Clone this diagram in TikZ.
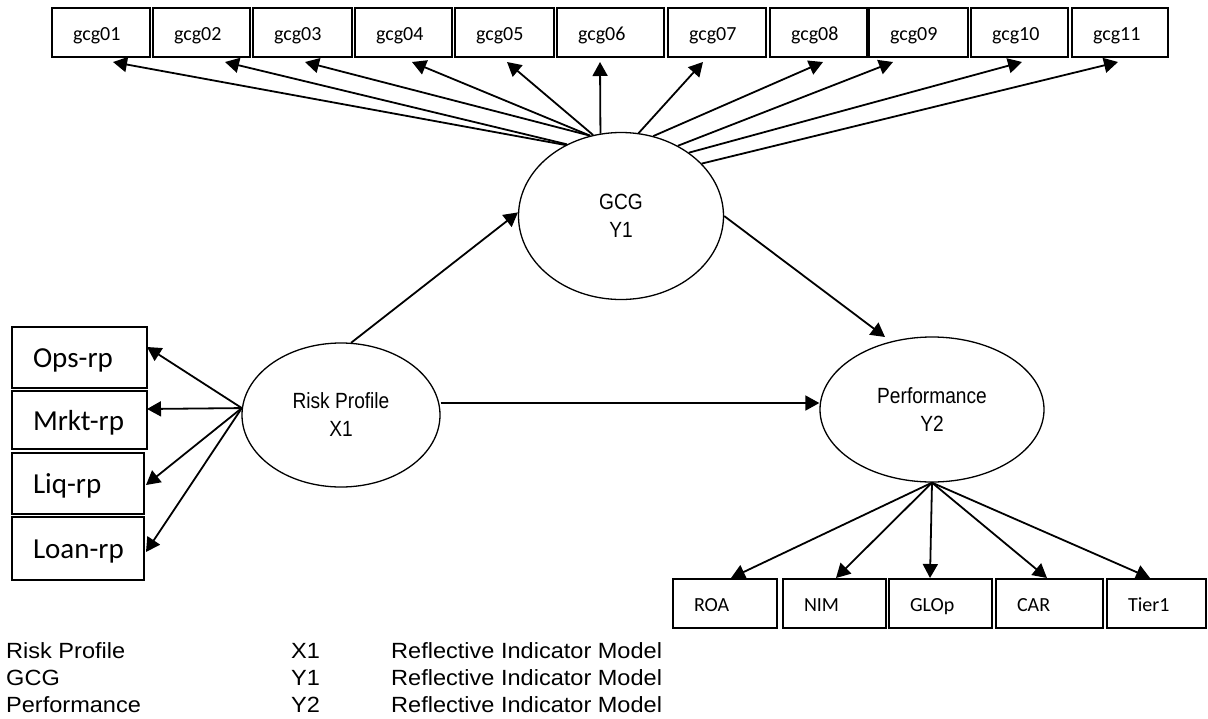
\documentclass[tikz,border=0pt]{standalone}
\usepackage{fontspec}
\setmainfont{Carlito}
\newfontfamily\narrowf[FakeStretch=0.87]{Liberation Sans}
\newfontfamily\legf[FakeStretch=1.07]{Liberation Sans}
\usetikzlibrary{shapes.geometric,arrows.meta}
\begin{document}
\begin{tikzpicture}[x=1pt,y=-1pt,
  gbox/.style={draw, rectangle, line width=1.4pt, inner xsep=21pt, inner ysep=0pt,
    minimum height=49pt, text height=15pt, text depth=0pt, align=left,
    font=\fontsize{20}{24}\selectfont},
  lbox/.style={draw, rectangle, line width=1.4pt, inner xsep=21pt, inner ysep=0pt,
    text height=20pt, text depth=0pt, align=left,
    font=\fontsize{29}{34}\selectfont},
  latent/.style={draw, ellipse, line width=1.3pt, inner sep=0pt, align=center,
    font=\narrowf\fontsize{22}{28}\selectfont},
  arr/.style={line width=1.8pt, -{Triangle[length=14pt,width=15pt]}},
  leg/.style={anchor=base west, inner sep=0pt, font=\legf\fontsize{22}{27}\selectfont}
]
\useasboundingbox (0,0) rectangle (1208,718);

% top indicator boxes
\node[gbox, text width=56pt] (g01) at (101,32.5) {gcg01};
\node[gbox, text width=55pt] (g02) at (201.5,32.5) {gcg02};
\node[gbox, text width=57pt] (g03) at (302.5,32.5) {gcg03};
\node[gbox, text width=55pt] (g04) at (403.5,32.5) {gcg04};
\node[gbox, text width=57pt] (g05) at (504.5,32.5) {gcg05};
\node[gbox, text width=65pt] (g06) at (610.5,32.5) {gcg06};
\node[gbox, text width=56pt] (g07) at (717,32.5) {gcg07};
\node[gbox, text width=55pt] (g08) at (818.5,32.5) {gcg08};
\node[gbox, text width=57pt] (g09) at (918.5,32.5) {gcg09};
\node[gbox, text width=55pt] (g10) at (1019.5,32.5) {gcg10};
\node[gbox, text width=54pt] (g11) at (1120,32.5) {gcg11};

% left indicator boxes
\node[lbox, text width=93pt, minimum height=61pt] (ops) at (79.5,357.5) {\mbox{Ops-rp}};
\node[lbox, text width=93pt, minimum height=58pt] (mrkt) at (79.5,420) {\mbox{Mrkt-rp}};
\node[lbox, text width=90pt, minimum height=61pt] (liq) at (78,483.5) {\mbox{Liq-rp}};
\node[lbox, text width=90pt, minimum height=63pt] (loan) at (78,548.5) {\mbox{Loan-rp}};

% bottom indicator boxes
\node[gbox, text width=62pt] (roa) at (725,603.5) {ROA};
\node[gbox, text width=61pt] (nim) at (834.5,603.5) {NIM};
\node[gbox, text width=61pt] (glop) at (940.5,603.5) {GLOp};
\node[gbox, text width=65pt] (car) at (1049.5,603.5) {CAR};
\node[gbox, text width=57pt] (tier) at (1156.5,603.5) {Tier1};

% latent variables
\node[latent, minimum width=198pt, minimum height=144pt] (rp) at (341,415) {Risk Profile\\X1};
\node[latent, minimum width=205pt, minimum height=167pt] (gcg) at (621,216) {GCG\\Y1};
\node[latent, minimum width=224pt, minimum height=145pt] (perf) at (932,409.5) {Performance\\Y2};

% arrow tips
\coordinate (t01) at (113,62);
\coordinate (t02) at (225,62);
\coordinate (t03) at (305,62);
\coordinate (t04) at (412,62);
\coordinate (t05) at (507,62);
\coordinate (t06) at (600,62);
\coordinate (t07) at (703,62);
\coordinate (t08) at (823,62);
\coordinate (t09) at (893,62);
\coordinate (t10) at (1022,62);
\coordinate (t11) at (1118,62);
\coordinate (tops) at (147,347);
\coordinate (tmrkt) at (147,409);
\coordinate (tliq) at (146,485);
\coordinate (tloan) at (146,552);
\coordinate (troa) at (731,578);
\coordinate (tnim) at (836,578);
\coordinate (tglop) at (930,578);
\coordinate (tcar) at (1047,578);
\coordinate (ttier) at (1150,578);
\coordinate (tperf) at (885,337);

% GCG indicators
\draw[arr] (gcg.128) -- (t01);
\draw[arr] (gcg.127) -- (t02);
\draw[arr] (gcg.111) -- (t03);
\draw[arr] (gcg.111) -- (t04);
\draw[arr] (gcg.109) -- (t05);
\draw[arr] (gcg.104.5) -- (t06);
\draw[arr] (gcg.78) -- (t07);
\draw[arr] (gcg.68) -- (t08);
\draw[arr] (gcg.51) -- (t09);
\draw[arr] (gcg.43) -- (t10);
\draw[arr] (gcg.33) -- (t11);

% Risk profile indicators
\draw[arr] (rp.176.5) -- (tops);
\draw[arr] (rp.176.5) -- (tmrkt);
\draw[arr] (rp.176.5) -- (tliq);
\draw[arr] (rp.176.5) -- (tloan);

% Performance indicators
\draw[arr] (perf.south) -- (troa);
\draw[arr] (perf.south) -- (tnim);
\draw[arr] (perf.south) -- (tglop);
\draw[arr] (perf.south) -- (tcar);
\draw[arr] (perf.south) -- (ttier);

% structural paths
\draw[arr] (rp.82) -- (gcg.178);
\draw[arr] (gcg.east) -- (tperf);
\draw[arr] ([yshift=12pt]rp.east) -- ([yshift=6.5pt]perf.west);

% legend
\node[leg] (l1a) at (6,658) {Risk Profile};
\node[leg] (l1b) at (291,658) {X1};
\node[leg] (l1c) at (391,658) {Reflective Indicator Model};
\node[leg] (l2a) at (6,685) {GCG};
\node[leg] (l2b) at (291,685) {Y1};
\node[leg] (l2c) at (391,685) {Reflective Indicator Model};
\node[leg] (l3a) at (6,712) {Performance};
\node[leg] (l3b) at (291,712) {Y2};
\node[leg] (l3c) at (391,712) {Reflective Indicator Model};
\end{tikzpicture}
\end{document}
